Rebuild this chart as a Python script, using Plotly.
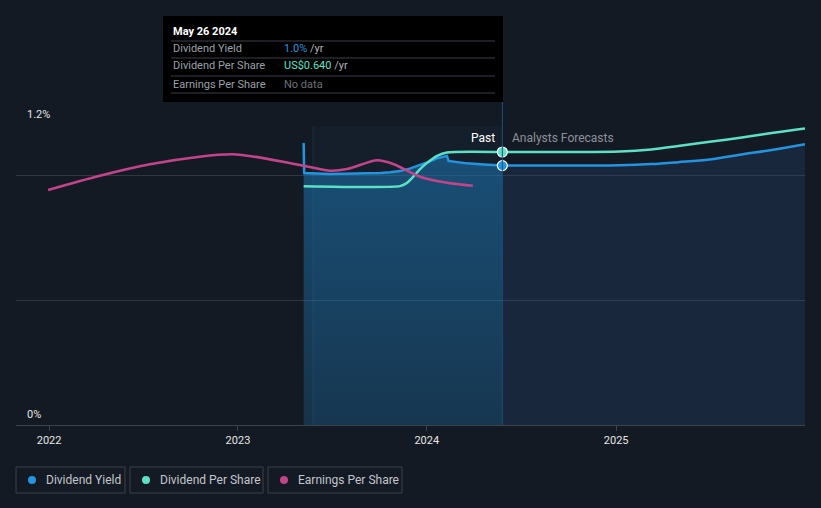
import plotly.graph_objects as go

# ---------------- data ----------------
yield_past_dates = ["2023-05-08", "2023-05-09", "2023-06-28", "2023-08-15", "2023-10-03", "2023-10-22",
                    "2023-11-10", "2023-11-29", "2023-12-19", "2024-01-07", "2024-01-21", "2024-02-09",
                    "2024-02-12", "2024-03-19", "2024-04-20", "2024-05-26"]
yield_past = [1.132, 1.011, 1.007, 1.008, 1.011, 1.014, 1.019, 1.029, 1.043, 1.058, 1.070, 1.080,
              1.060, 1.050, 1.045, 1.041]

yield_fc_dates = ["2024-05-26", "2024-09-14", "2025-01-08", "2025-03-10", "2025-05-01", "2025-07-01",
                  "2025-09-01", "2025-11-01", "2026-01-01"]
yield_fc = [1.041, 1.041, 1.042, 1.047, 1.055, 1.066, 1.086, 1.105, 1.127]

dps_dates = ["2023-05-08", "2023-11-10", "2023-11-23", "2023-12-05", "2023-12-19", "2024-01-01",
             "2024-01-21", "2024-02-09", "2024-05-26"]
dps = [0.560, 0.560, 0.567, 0.581, 0.600, 0.614, 0.631, 0.639, 0.640]

dps_fc_dates = ["2024-05-26", "2024-09-14", "2025-01-08", "2025-03-10", "2025-05-01", "2025-07-01",
                "2025-09-01", "2025-11-01", "2026-01-01"]
dps_fc = [0.640, 0.640, 0.641, 0.646, 0.654, 0.664, 0.674, 0.685, 0.695]

eps_dates = ["2021-12-30", "2022-04-09", "2022-07-15", "2022-10-19", "2022-12-22", "2023-01-24",
             "2023-03-29", "2023-05-20", "2023-06-28", "2023-07-31", "2023-09-27", "2023-10-28",
             "2023-12-19", "2024-02-09", "2024-03-30"]
eps = [2.358, 2.501, 2.616, 2.692, 2.716, 2.699, 2.642, 2.589, 2.551, 2.568, 2.656, 2.619,
       2.491, 2.431, 2.401]

year_ticks = ["2022-01-01", "2023-01-01", "2024-01-01", "2025-01-01"]
year_labels = ["2022", "2023", "2024", "2025"]
grid_vals = [0.5, 1.0, 1.2]

hover_date = "2024-05-26"
past_start = "2023-05-26"
x_range = ["2021-10-29", "2026-01-01"]

BLUE = "#2394df"
TEAL = "#5ce0c6"
MAG = "#c4448c"
BG = "#141a23"

fig = go.Figure()

# forecast fill under yield
fig.add_trace(go.Scatter(x=yield_fc_dates, y=yield_fc, mode="lines", line=dict(color=BLUE, width=2.5, shape="spline", smoothing=1.0),
                         fill="tozeroy", fillcolor="rgba(35,80,130,0.25)", hoverinfo="skip", showlegend=False))
# past fill under yield (gradient)
fig.add_trace(go.Scatter(x=yield_past_dates, y=yield_past, mode="lines", line=dict(color=BLUE, width=2.5),
                         fill="tozeroy",
                         fillgradient=dict(type="vertical",
                                           colorscale=[[0, "rgba(28,115,175,0.28)"], [1, "rgba(28,115,175,0.58)"]]),
                         hoverinfo="skip", showlegend=False))

# DPS on hidden axis
fig.add_trace(go.Scatter(x=dps_dates, y=dps, mode="lines", yaxis="y2",
                         line=dict(color=TEAL, width=2.5, shape="spline", smoothing=0.6), hoverinfo="skip", showlegend=False))
fig.add_trace(go.Scatter(x=dps_fc_dates, y=dps_fc, mode="lines", yaxis="y2",
                         line=dict(color=TEAL, width=2.5, shape="spline", smoothing=1.0), hoverinfo="skip", showlegend=False))

# EPS on hidden axis
fig.add_trace(go.Scatter(x=eps_dates, y=eps, mode="lines", yaxis="y3",
                         line=dict(color=MAG, width=2.5, shape="spline", smoothing=0.8), hoverinfo="skip", showlegend=False))

# markers at hover date
fig.add_trace(go.Scatter(x=[hover_date], y=[dps[-1]], mode="markers", yaxis="y2",
                         marker=dict(color=TEAL, size=10, line=dict(color="white", width=1.2)), hoverinfo="skip", showlegend=False))
fig.add_trace(go.Scatter(x=[hover_date], y=[yield_past[-1]], mode="markers",
                         marker=dict(color=BLUE, size=10, line=dict(color="white", width=1.2)), hoverinfo="skip", showlegend=False))

W, H = 821, 508
L, R, T, B = 16, 16, 126, 83
PW, PH = W - L - R, H - T - B


def px(x):
    return (x - L) / PW


def py(y):
    return (H - B - y) / PH


shapes = []
# faint past-year band
shapes.append(dict(type="rect", xref="x", yref="paper", x0=past_start, x1=hover_date, y0=0, y1=1,
                   fillcolor="rgba(60,130,200,0.05)", line=dict(width=0), layer="below"))
shapes.append(dict(type="line", xref="x", yref="paper", x0=past_start, x1=past_start, y0=0, y1=1,
                   line=dict(color="rgba(70,130,190,0.18)", width=1), layer="below"))
# hover line
shapes.append(dict(type="line", xref="x", yref="paper", x0=hover_date, x1=hover_date, y0=0, y1=py(102),
                   line=dict(color="#1f4f7a", width=1)))
# tooltip box
shapes.append(dict(type="rect", xref="paper", yref="paper", x0=px(163), x1=px(503), y0=py(102), y1=py(16),
                   fillcolor="#000000", line=dict(width=0)))
for sy in [41, 58, 76, 93]:
    shapes.append(dict(type="line", xref="paper", yref="paper", x0=px(171), x1=px(495), y0=py(sy), y1=py(sy),
                       line=dict(color="#3a3f48", width=1)))

# legend boxes
legend_items = [("Dividend Yield", BLUE, 16, 125), ("Dividend Per Share", TEAL, 130, 263), ("Earnings Per Share", MAG, 268, 402)]
annotations = []
for name, col, x0, x1 in legend_items:
    shapes.append(dict(type="rect", xref="paper", yref="paper", x0=px(x0), x1=px(x1), y0=py(493), y1=py(467),
                       fillcolor="rgba(0,0,0,0)", line=dict(color="#3b404a", width=1)))
    shapes.append(dict(type="circle", xref="paper", yref="paper", x0=px(x0 + 12), x1=px(x0 + 20), y0=py(484), y1=py(476),
                       fillcolor=col, line=dict(width=0)))
    annotations.append(dict(text=name, xref="paper", yref="paper", x=px(x0 + 28), y=py(480), xanchor="left", yanchor="middle",
                            showarrow=False, font=dict(family="Roboto", size=12, color="#c2c6cc")))

FONT = "Roboto"
# axis labels
annotations.append(dict(text="1.2%", xref="paper", yref="paper", x=px(25), y=py(114), xanchor="left", yanchor="middle",
                        showarrow=False, font=dict(family=FONT, size=11, color="#e6e6e6")))
annotations.append(dict(text="0%", xref="paper", yref="paper", x=px(25), y=py(414), xanchor="left", yanchor="middle",
                        showarrow=False, font=dict(family=FONT, size=11, color="#e6e6e6")))
# past / forecast
annotations.append(dict(text="Past", xref="paper", yref="paper", x=px(497), y=py(138), xanchor="right", yanchor="middle",
                        showarrow=False, font=dict(family=FONT, size=12, color="#ffffff")))
annotations.append(dict(text="Analysts Forecasts", xref="paper", yref="paper", x=px(510), y=py(138), xanchor="left", yanchor="middle",
                        showarrow=False, font=dict(family=FONT, size=12, color="#8c919a")))
# tooltip texts
annotations.append(dict(text="<b>May 26 2024</b>", xref="paper", yref="paper", x=px(171), y=py(31), xanchor="left", yanchor="middle",
                        showarrow=False, font=dict(family=FONT, size=11, color="#ffffff")))
rows = [("Dividend Yield", 49, "<span style='color:%s'>1.0%%</span> /yr" % BLUE),
        ("Dividend Per Share", 66, "<span style='color:%s'>US$0.640</span> /yr" % TEAL),
        ("Earnings Per Share", 84, "<span style='color:#6b7079'>No data</span>")]
for lab, ry, val in rows:
    annotations.append(dict(text=lab, xref="paper", yref="paper", x=px(171), y=py(ry), xanchor="left", yanchor="middle",
                            showarrow=False, font=dict(family=FONT, size=11, color="#9aa0a8")))
    annotations.append(dict(text=val, xref="paper", yref="paper", x=px(282), y=py(ry), xanchor="left", yanchor="middle",
                            showarrow=False, font=dict(family=FONT, size=11, color="#b0b4ba")))

fig.update_layout(
    width=W, height=H,
    margin=dict(l=L, r=R, t=T, b=B, pad=0),
    paper_bgcolor=BG, plot_bgcolor=BG,
    showlegend=False,
    shapes=shapes, annotations=annotations,
    xaxis=dict(type="date", range=x_range, tickvals=year_ticks, ticktext=year_labels,
               showgrid=False, zeroline=False, showline=True, linecolor="#3d434d", linewidth=1,
               ticks="outside", ticklen=5, tickcolor="#3d434d",
               tickfont=dict(family=FONT, size=11, color="#e6e6e6")),
    yaxis=dict(range=[0, 1.2], tickvals=grid_vals, showticklabels=False, showgrid=True,
               gridcolor="rgba(255,255,255,0.13)", gridwidth=1, zeroline=False, fixedrange=True),
    yaxis2=dict(range=[0, 0.701], overlaying="y", visible=False),
    yaxis3=dict(range=[0, 3.0], overlaying="y", visible=False),
)

fig.write_html("out.html")
